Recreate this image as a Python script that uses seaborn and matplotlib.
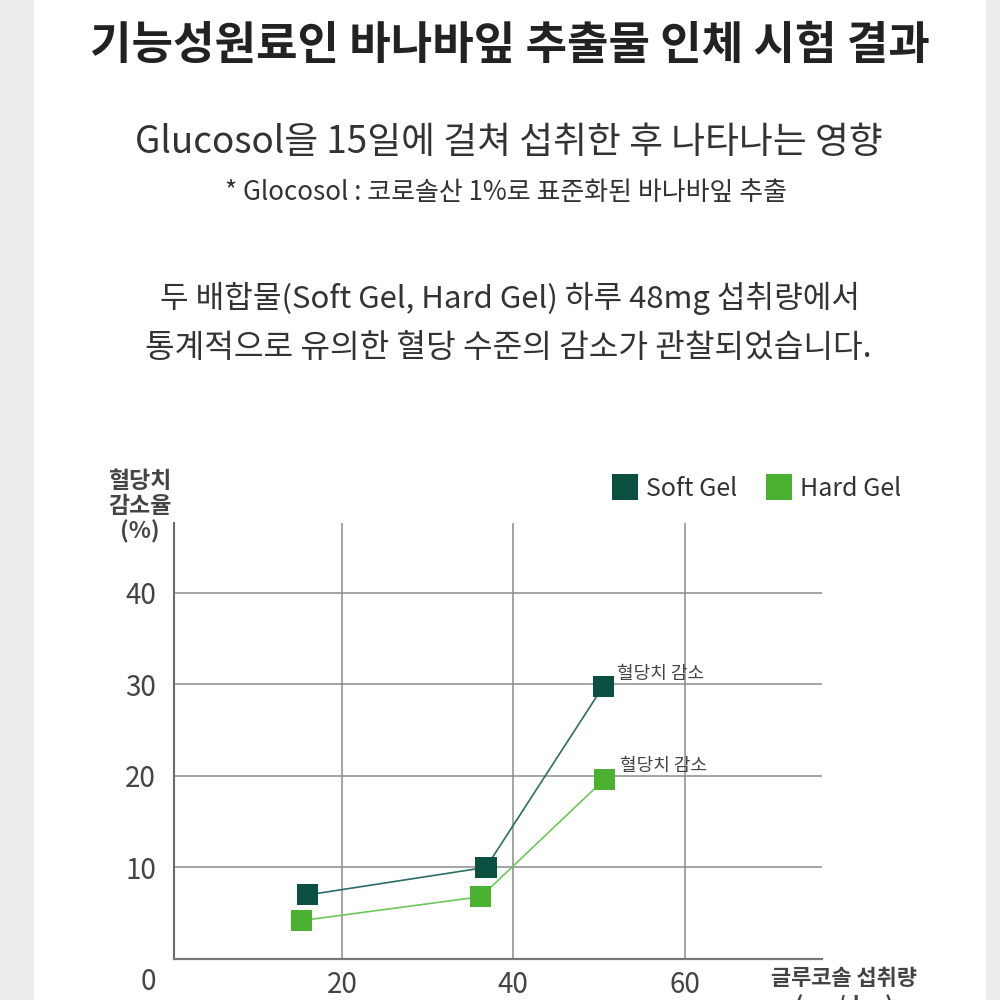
import matplotlib
matplotlib.use('Agg')
import pandas as pd
import matplotlib.pyplot as plt
import seaborn as sns
from matplotlib.lines import Line2D
from matplotlib.patches import Rectangle

# data
groups = ["Soft Gel", "Hard Gel"]
soft_dose = [16.0, 36.8, 50.5]
soft_drop = [7.0, 10.0, 29.8]
hard_dose = [15.3, 36.2, 50.6]
hard_drop = [4.2, 6.8, 19.6]
y_ticks = [10, 20, 30, 40]
x_ticks = [20, 40, 60]
note_label = "혈당치 감소"

marker_colors = {"Soft Gel": "#0b4f40", "Hard Gel": "#4bb231"}
line_colors = {"Soft Gel": "#2b6e67", "Hard Gel": "#6cc85a"}

df = pd.DataFrame({
    "dose": soft_dose + hard_dose,
    "drop": soft_drop + hard_drop,
    "gel": [groups[0]] * len(soft_dose) + [groups[1]] * len(hard_dose),
})

sns.set_theme(style="white")
plt.rcParams['font.family'] = ['Noto Sans CJK KR', 'DejaVu Sans']

fig = plt.figure(figsize=(10, 10), dpi=100)
fig.patch.set_facecolor("white")
# grey side strips of the page
fig.patches.append(Rectangle((0, 0), 0.033, 1, transform=fig.transFigure,
                             color="#eceeed", zorder=0))
fig.patches.append(Rectangle((0.986, 0), 0.014, 1, transform=fig.transFigure,
                             color="#eceeed", zorder=0))

# header texts
fig.text(0.51, 0.954, "기능성원료인 바나바잎 추출물 인체 시험 결과", ha="center", va="center",
         fontsize=32.5, weight="bold", color="#222222")
fig.text(0.509, 0.857, "Glucosol을 15일에 걸쳐 섭취한 후 나타나는 영향", ha="center", va="center",
         fontsize=26.5, color="#333333")
fig.text(0.506, 0.808, "* Glocosol : 코로솔산 1%로 표준화된 바나바잎 추출", ha="center", va="center",
         fontsize=18.7, color="#333333")
fig.text(0.51, 0.702, "두 배합물(Soft Gel, Hard Gel) 하루 48mg 섭취량에서", ha="center", va="center",
         fontsize=22.4, color="#333333")
fig.text(0.508, 0.652, "통계적으로 유의한 혈당 수준의 감소가 관찰되었습니다.", ha="center", va="center",
         fontsize=23.2, color="#333333")

ax = fig.add_axes([0.174, 0.041, 0.648, 0.436])
ax.set_facecolor("white")

sns.lineplot(data=df, x="dose", y="drop", hue="gel", palette=line_colors,
             linewidth=1.2, legend=False, ax=ax, zorder=3)
sns.scatterplot(data=df, x="dose", y="drop", hue="gel", palette=marker_colors,
                marker="s", s=230, linewidth=0, legend=False, ax=ax, zorder=4)

ax.set(xlim=(0.4, 76), ylim=(0, 47.6), xlabel="", ylabel="")
ax.set_xticks(x_ticks)
ax.set_yticks(y_ticks)
ax.grid(True, color="#8c8c8c", linewidth=1.1)
ax.tick_params(length=0, labelsize=20, labelcolor="#444444")
ax.tick_params(axis="y", pad=13)
ax.tick_params(axis="x", pad=8)
for side in ["top", "right"]:
    ax.spines[side].set_visible(False)
ax.spines["left"].set_color("#6b6b6b")
ax.spines["left"].set_linewidth(1.5)
ax.spines["bottom"].set_color("#777777")
ax.spines["bottom"].set_linewidth(1.6)

# labels next to the last points
ax.annotate(note_label, (soft_dose[-1], soft_drop[-1]), xytext=(10, 8.5),
            textcoords="offset points", fontsize=13, color="#444444", va="center")
ax.annotate(note_label, (hard_dose[-1], hard_drop[-1]), xytext=(11, 10),
            textcoords="offset points", fontsize=13, color="#444444", va="center")

# corner zero, axis titles
fig.text(0.148, 0.018, "0", ha="center", va="center", fontsize=20, color="#444444")
fig.text(0.14, 0.493, "혈당치\n감소율\n(%)", ha="center", va="center", fontsize=16.5,
         weight="bold", color="#444444", linespacing=1.1)
# second line runs off the bottom edge, as in the source image
fig.text(0.844, 0.033, "글루코솔 섭취량\n(mg/day)", ha="center", va="top", fontsize=15.8,
         weight="bold", color="#444444", linespacing=1.2)

handles = [Line2D([], [], marker="s", linestyle="", markersize=19,
                  markerfacecolor=marker_colors[g], markeredgewidth=0) for g in groups]
fig.legend(handles, groups, loc="center left", bbox_to_anchor=(0.590, 0.511),
           ncol=2, frameon=False, fontsize=18, handlelength=1.0, handletextpad=0.35,
           columnspacing=1.15, labelcolor="#333333")

fig.savefig("out.png", dpi=100)
